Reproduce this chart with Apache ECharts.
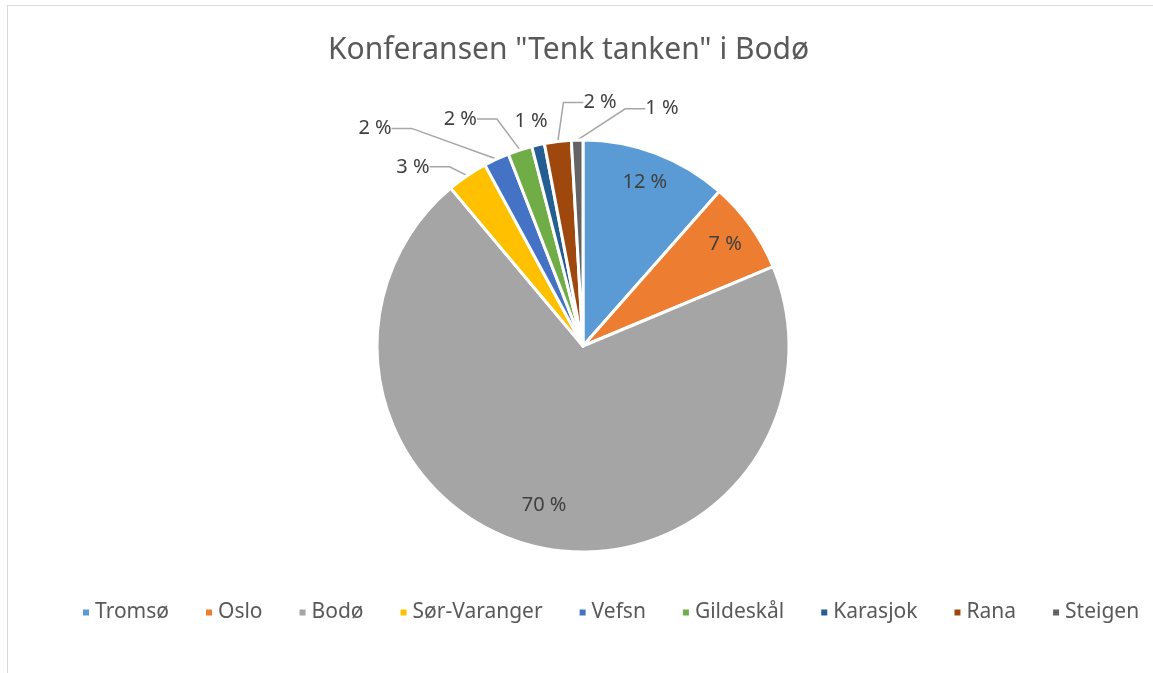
<!DOCTYPE html>
<html>
<head>
<meta charset="utf-8">
<script src="https://cdn.jsdelivr.net/npm/echarts@6/dist/echarts.min.js"></script>
<style>
  html, body { margin: 0; padding: 0; background: #fff; }
  #frame { position: absolute; left: 7px; top: 5px; width: 1160px; height: 680px; border: 1px solid #d9d9d9; box-sizing: border-box; }
  #pie { position: absolute; left: 0; top: 0; width: 1153px; height: 673px; }
</style>
</head>
<body>
<div id="frame"></div>
<div id="pie"></div>
<script>
// kommuner og andel deltakere (prosent)
const places = ['Tromsø', 'Oslo', 'Bodø', 'Sør-Varanger', 'Vefsn', 'Gildeskål', 'Karasjok', 'Rana', 'Steigen']
const shares = [11.5, 7.2, 70.2, 3.2, 2.0, 1.9, 1.0, 2.1, 0.9]
const colors = ['#5B9BD5', '#ED7D31', '#A5A5A5', '#FFC000', '#4472C4', '#70AD47', '#255E91', '#9E480E', '#636363']

// plassering av etikettene til de små sektorene: [vinkel fra toppen i grader, avstand fra sentrum]
const labelSpots = {
  'Sør-Varanger': [316.5, 247],
  'Vefsn': [316.3, 301],
  'Gildeskål': [331.6, 258],
  'Karasjok': [347, 231],
  'Rana': [4, 244],
  'Steigen': [18.4, 250]
}

let myChart = echarts.init(document.querySelector('#pie'))
const cx = 583, cy = 346

let option = {
  title: {
    text: 'Konferansen "Tenk tanken" i Bodø',
    left: 323,
    top: 30,
    textStyle: {
      fontFamily: 'Noto Sans',
      fontSize: 30,
      fontWeight: 'normal',
      color: '#595959'
    }
  },
  color: colors,
  legend: {
    top: 597,
    left: 76,
    icon: 'rect',
    itemWidth: 8,
    itemHeight: 8,
    itemGap: 35,
    textStyle: {
      fontFamily: 'Noto Sans',
      fontSize: 21,
      color: '#595959'
    },
    data: places
  },
  series: [
    {
      type: 'pie',
      center: [cx, cy],
      radius: 206,
      startAngle: 90,
      avoidLabelOverlap: false,
      itemStyle: {
        borderColor: '#fff',
        borderWidth: 3
      },
      label: {
        fontFamily: 'Noto Sans',
        fontSize: 20,
        color: '#404040',
        formatter: p => Math.round(p.percent) + ' %'
      },
      labelLine: {
        length: 12,
        length2: 20,
        lineStyle: { color: '#a6a6a6', width: 1.5 }
      },
      labelLayout: function (p) {
        let name = places[p.dataIndex]
        if (labelSpots[name]) {
          let a = labelSpots[name][0] * Math.PI / 180
          let d = labelSpots[name][1]
          return {
            x: cx + d * Math.sin(a),
            y: cy - d * Math.cos(a),
            align: 'center',
            verticalAlign: 'middle'
          }
        }
        // store etiketter inne i sektoren, nær kanten
        let lx = p.labelRect.x + p.labelRect.width / 2
        let ly = p.labelRect.y + p.labelRect.height / 2
        let k = name === 'Bodø' ? 1.55 : 1.65
        return {
          x: cx + (lx - cx) * k,
          y: cy + (ly - cy) * k,
          align: 'center',
          verticalAlign: 'middle'
        }
      },
      data: places.map((name, i) => {
        return {
          name: name,
          value: shares[i],
          label: { position: i < 3 ? 'inside' : 'outside' },
          labelLine: { show: i >= 3 && name !== 'Karasjok' }
        }
      })
    }
  ]
}
myChart.setOption(option)
</script>
</body>
</html>
